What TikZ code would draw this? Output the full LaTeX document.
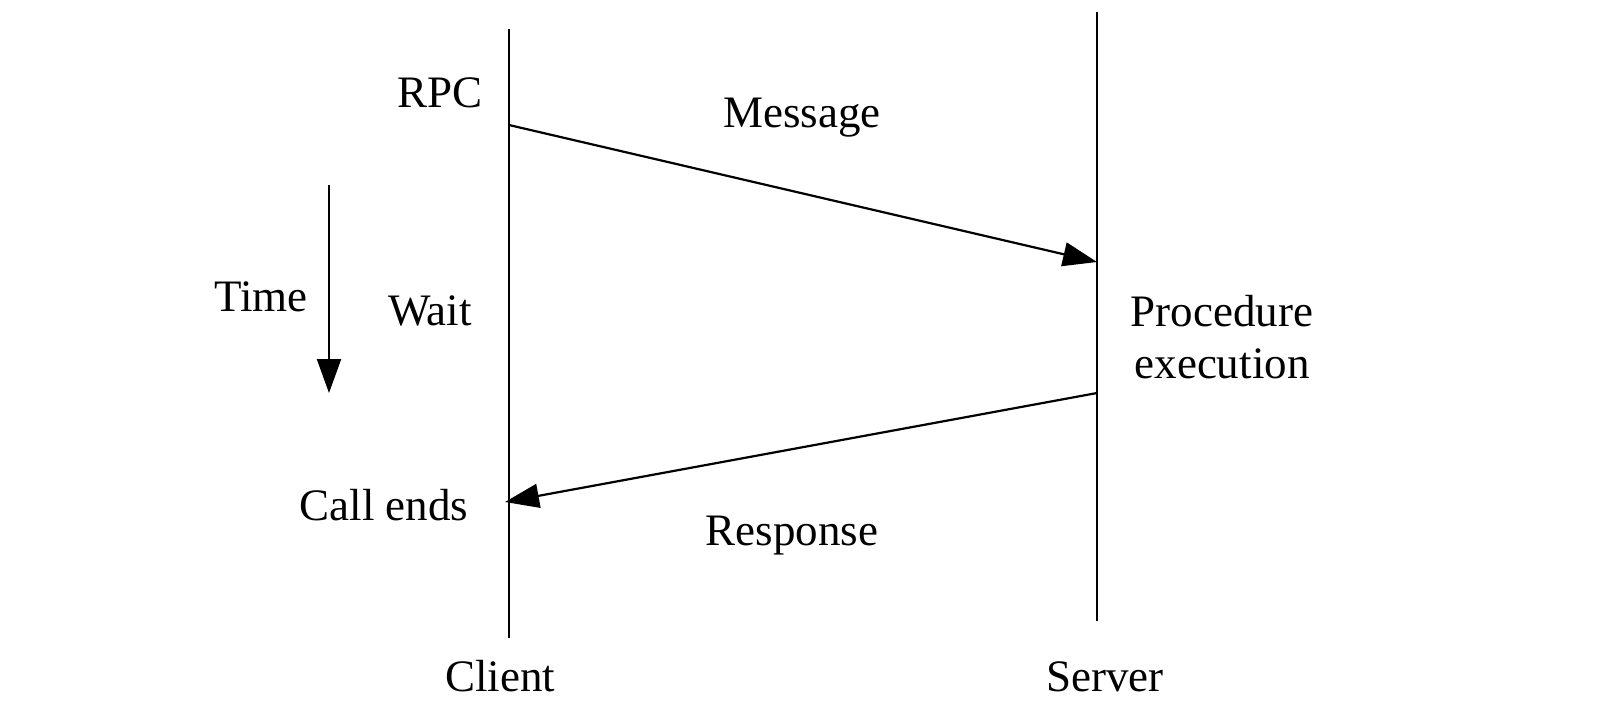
\documentclass[tikz,border=0pt]{standalone}
\usepackage{fontspec}
\setmainfont{Liberation Serif}
\usetikzlibrary{arrows.meta}
\begin{document}
\begin{tikzpicture}[x=0.5pt,y=-0.5pt,
  lifeline/.style={line width=1.1pt},
  msg/.style={line width=1.1pt,-{Triangle[length=17pt,width=12pt]}},
  lbl/.style={font=\fontsize{22.5}{26}\selectfont,inner sep=0pt,align=center},
  blbl/.style={lbl,anchor=base}]
\useasboundingbox (0,0) rectangle (1600,720);
% lifelines
\coordinate (ctop) at (509,29);
\coordinate (cbot) at (509,638);
\coordinate (stop) at (1097,12);
\coordinate (sbot) at (1097,621);
\draw[lifeline] (ctop) -- (cbot);
\draw[lifeline] (stop) -- (sbot);
% message points
\coordinate (m1) at (509,125);
\coordinate (m2) at (1097,262);
\coordinate (r1) at (1097,393);
\coordinate (r2) at (505,502);
\draw[msg] (m1) -- (m2);
\draw[msg] (r1) -- (r2);
% time arrow
\coordinate (t1) at (329,185);
\coordinate (t2) at (329,393);
\draw[msg] (t1) -- (t2);
% labels
\node[blbl] (rpc) at (440,107) {RPC};
\node[blbl] (message) at (802,127) {Message};
\node[blbl] (time) at (261,311) {Time};
\node[blbl] (wait) at (430,325) {Wait};
\node[lbl] (proc) at (1222,337) {Procedure\\execution};
\node[blbl] (callends) at (384,520) {Call ends};
\node[blbl] (response) at (792,545) {Response};
\node[blbl] (client) at (500,691) {Client};
\node[blbl] (server) at (1105,691) {Server};
\end{tikzpicture}
\end{document}
